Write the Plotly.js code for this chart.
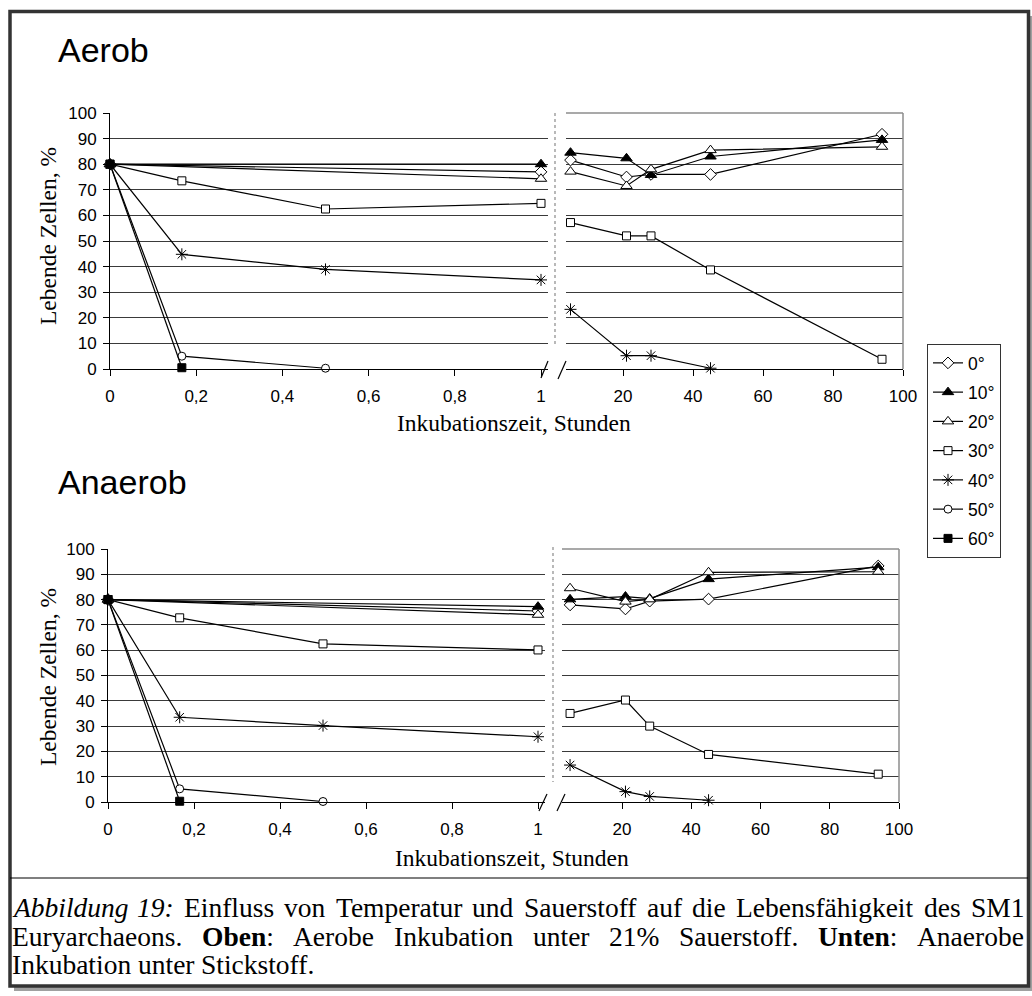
<!DOCTYPE html>
<html><head><meta charset="utf-8">
<script src="https://cdn.plot.ly/plotly-3.0.1.min.js"></script>
<style>html,body{margin:0;padding:0;background:#fff}#chart{width:1032px;height:996px}</style>
</head><body><div id="chart"></div>
<script>
const W = 1032, H = 996;

// ---------- data ----------
const temps = ['0°', '10°', '20°', '30°', '40°', '50°', '60°'];
const hoursShort = [0, 0.1667, 0.5, 1];          // left part of each panel (0–1 h)
const hoursLong = [5, 21, 28, 45, 94];           // right part of each panel (h)
const xTicksShort = [0, 0.2, 0.4, 0.6, 0.8, 1];
const xTicksLong = [20, 40, 60, 80, 100];

// Aerob, 0–1 h
const aerobShort0 = [80, null, null, 77];
const aerobShort10 = [80, null, null, 80];
const aerobShort20 = [80, null, null, 74.3];
const aerobShort30 = [80, 73.5, 62.5, 64.7];
const aerobShort40 = [80, 44.8, 38.9, 34.8];
const aerobShort50 = [80, 5, 0.3, null];
const aerobShort60 = [80, 0.5, null, null];
// Aerob, 5–94 h
const aerobLong0 = [81.6, 75, 76, 76, 91.7];
const aerobLong10 = [84.5, 82.3, 75.8, 83, 89.5];
const aerobLong20 = [77.1, 71.5, 78, 85.5, 86.8];
const aerobLong30 = [57.2, 52, 52, 38.7, 3.8];
const aerobLong40 = [23.3, 5.2, 5.2, 0.3, null];
const aerobLong50 = [null, null, null, null, null];
const aerobLong60 = [null, null, null, null, null];
// Anaerob, 0–1 h
const anaerobShort0 = [80, null, null, 75.5];
const anaerobShort10 = [80, null, null, 77.2];
const anaerobShort20 = [80, null, null, 74];
const anaerobShort30 = [80, 72.8, 62.5, 60.1];
const anaerobShort40 = [80, 33.5, 30.2, 25.8];
const anaerobShort50 = [80, 5.2, 0.2, null];
const anaerobShort60 = [80, 0.3, null, null];
// Anaerob, 5–94 h
const anaerobLong0 = [77.9, 76.3, 79.4, 80.2, 93.3];
const anaerobLong10 = [80.1, 81.2, 80.4, 88.1, 92.8];
const anaerobLong20 = [84.5, 79.2, 80.1, 90.8, 91];
const anaerobLong30 = [35, 40.3, 30, 18.8, 11];
const anaerobLong40 = [14.6, 4.1, 2.2, 0.7, null];
const anaerobLong50 = [null, null, null, null, null];
const anaerobLong60 = [null, null, null, null, null];

const aerobShort = [aerobShort0, aerobShort10, aerobShort20, aerobShort30, aerobShort40, aerobShort50, aerobShort60];
const aerobLong = [aerobLong0, aerobLong10, aerobLong20, aerobLong30, aerobLong40, aerobLong50, aerobLong60];
const anaerobShort = [anaerobShort0, anaerobShort10, anaerobShort20, anaerobShort30, anaerobShort40, anaerobShort50, anaerobShort60];
const anaerobLong = [anaerobLong0, anaerobLong10, anaerobLong20, anaerobLong30, anaerobLong40, anaerobLong50, anaerobLong60];

const panelTitles = ['Aerob', 'Anaerob'];
const xTitle = 'Inkubationszeit, Stunden';
const yTitle = 'Lebende Zellen, %';
const captionLines = [
  ['<i>Abbildung</i>', '<i>19:</i>', 'Einfluss', 'von', 'Temperatur', 'und', 'Sauerstoff', 'auf', 'die', 'Lebensfähigkeit', 'des', 'SM1'],
  ['Euryarchaeons.', '<b>Oben</b>:', 'Aerobe', 'Inkubation', 'unter', '21%', 'Sauerstoff.', '<b>Unten</b>:', 'Anaerobe'],
  ['Inkubation', 'unter', 'Stickstoff.']
];

// ---------- styles ----------
const symbols = ['diamond', 'triangle-up', 'triangle-up', 'square', 'asterisk-open', 'circle', 'square'];
const fills = ['white', 'black', 'white', 'white', 'black', 'white', 'black'];
const sizes = [9, 10, 10, 8, 10, 8, 8];
const SANS = 'Liberation Sans, Arial, sans-serif';
const SERIF = 'Liberation Serif, Times New Roman, serif';
const px = v => v / W;
const py = v => 1 - v / H;

// ---------- traces ----------
const traces = [];
function addSeries(xs, ys, xa, ya, i, show) {
  traces.push({
    type: 'scatter', mode: 'lines+markers', x: xs, y: ys, xaxis: xa, yaxis: ya,
    name: temps[i], legendgroup: temps[i], showlegend: show, connectgaps: true, cliponaxis: false,
    line: {color: 'black', width: 1.2},
    marker: {symbol: symbols[i], size: sizes[i], color: fills[i], line: {color: 'black', width: 1}}
  });
}
for (let i = 0; i < temps.length; i++) {
  addSeries(hoursShort, aerobShort[i], 'x', 'y', i, true);
  addSeries(hoursLong, aerobLong[i], 'x2', 'y2', i, false);
  addSeries(hoursShort, anaerobShort[i], 'x3', 'y3', i, false);
  addSeries(hoursLong, anaerobLong[i], 'x4', 'y4', i, false);
}

// ---------- layout geometry (pixels) ----------
const G = {
  top: {yT: 113, yB: 369, lx0: 110, lx1px: 541, lxR: 548, rxL: 566, rxR: 903, r20: 623},
  bot: {yT: 549, yB: 802, lx0: 108, lx1px: 538, lxR: 545, rxL: 562, rxR: 899, r20: 622}
};
const tickFont = {family: SANS, size: 17, color: 'black'};
function shortX(g, anchor) {
  return {domain: [px(g.lx0), px(g.lxR)], range: [0, (g.lxR - g.lx0) / (g.lx1px - g.lx0)], anchor: anchor,
    tickmode: 'array', tickvals: xTicksShort, ticks: 'outside', ticklen: 6, tickcolor: 'black',
    showline: true, linecolor: 'black', linewidth: 1, showgrid: false, zeroline: false,
    tickfont: tickFont, ticklabelstandoff: 6, fixedrange: true};
}
function longX(g, anchor) {
  const ppu = (g.rxR - g.r20) / 80;
  return {domain: [px(g.rxL), px(g.rxR)], range: [100 - (g.rxR - g.rxL) / ppu, 100.0001], anchor: anchor,
    tickmode: 'array', tickvals: xTicksLong, ticks: 'outside', ticklen: 6, tickcolor: 'black',
    showline: true, linecolor: 'black', linewidth: 1, showgrid: false, zeroline: false,
    tickfont: tickFont, ticklabelstandoff: 6, fixedrange: true};
}
function mainY(g, anchor) {
  return {domain: [py(g.yB), py(g.yT)], range: [0, 100], anchor: anchor, dtick: 10, tick0: 0,
    ticks: 'outside', ticklen: 6, tickcolor: 'black', showline: true, linecolor: 'black', linewidth: 1,
    showgrid: true, gridcolor: '#3a3a3a', gridwidth: 1, zeroline: false, tickfont: tickFont,
    ticklabelstandoff: 3, fixedrange: true};
}
function sideY(g, anchor) {
  return {domain: [py(g.yB), py(g.yT)], range: [0, 100], anchor: anchor, dtick: 10, tick0: 0,
    showticklabels: false, ticks: '', showline: false, showgrid: true, gridcolor: '#3a3a3a', gridwidth: 1,
    zeroline: false, fixedrange: true};
}

// ---------- shapes ----------
const shapes = [];
function line(x0, y0, x1, y1, color, width, dash) {
  shapes.push({type: 'line', xref: 'paper', yref: 'paper', x0: px(x0), y0: py(y0), x1: px(x1), y1: py(y1),
    line: {color: color, width: width, dash: dash || 'solid'}});
}
// outer frame with shadow
shapes.push({type: 'rect', xref: 'paper', yref: 'paper', x0: px(14), y0: py(991), x1: px(1032), y1: py(16),
  fillcolor: '#a0a0a0', line: {width: 0}, layer: 'below'});
shapes.push({type: 'rect', xref: 'paper', yref: 'paper', x0: px(10), y0: py(986), x1: px(1028.5), y1: py(11.5),
  fillcolor: 'white', line: {color: '#333', width: 3.5}, layer: 'below'});
// caption separator
line(10, 878, 1028, 878, 'black', 1.2);
// right-plot frames (top + right, grey)
[['x2', 'y2'], ['x4', 'y4']].forEach(([xa, ya]) => {
  shapes.push({type: 'line', xref: xa + ' domain', yref: ya + ' domain', x0: 0, x1: 1, y0: 1, y1: 1, line: {color: '#8c8c8c', width: 1.5}});
  shapes.push({type: 'line', xref: xa + ' domain', yref: ya + ' domain', x0: 1, x1: 1, y0: 0, y1: 1, line: {color: '#8c8c8c', width: 1.5}});
});
// dotted separators
line(555, 113, 555, 345, '#8a8a8a', 1.2, 'dot');
line(553, 547, 553, 782, '#8a8a8a', 1.2, 'dot');
// axis break marks
line(541, 378, 548, 361, 'black', 1.2);
line(558, 379, 566, 361, 'black', 1.2);
line(539, 811, 547, 794, 'black', 1.2);
line(557, 811, 565, 794, 'black', 1.2);

// ---------- annotations ----------
const annotations = [];
function ann(text, x, y, font, xanchor, extra) {
  annotations.push(Object.assign({text: text, xref: 'paper', yref: 'paper', x: px(x), y: py(y),
    xanchor: xanchor || 'center', yanchor: 'middle', showarrow: false, font: font}, extra || {}));
}
ann(panelTitles[0], 56, 50, {family: SANS, size: 34, color: 'black'}, 'left');
ann(panelTitles[1], 56, 482, {family: SANS, size: 34, color: 'black'}, 'left');
const titleFont = {family: SERIF, size: 23.5, color: 'black'};
ann(xTitle, 514, 423, titleFont);
ann(xTitle, 512, 858, titleFont);
ann(yTitle, 48, 236, titleFont, 'center', {textangle: -90});
ann(yTitle, 48, 677, titleFont, 'center', {textangle: -90});

// caption with justified lines, measured on a canvas
const CAP = 27.5;
const ctx = document.createElement('canvas').getContext('2d');
function segments(word) {
  const parts = word.split(/(<\/?[ib]>)/); let it = false, bd = false; const out = [];
  parts.forEach(p => {
    if (p === '<i>') it = true; else if (p === '</i>') it = false;
    else if (p === '<b>') bd = true; else if (p === '</b>') bd = false;
    else if (p) out.push({t: p, i: it, b: bd});
  });
  return out;
}
function measure(word) {
  return segments(word).reduce((a, s) => {
    ctx.font = (s.i ? 'italic ' : '') + (s.b ? 'bold ' : '') + CAP + 'px "Liberation Serif"';
    return a + ctx.measureText(s.t).width;
  }, 0);
}
ctx.font = CAP + 'px "Liberation Serif"';
const spaceW = ctx.measureText(' ').width;
const capLeft = 11, capRight = 1023, capY = [907, 936, 964];
captionLines.forEach((words, li) => {
  const widths = words.map(measure);
  const total = widths.reduce((a, b) => a + b, 0);
  const justify = li < captionLines.length - 1;
  const gap = justify ? Math.max(spaceW * 0.6, (capRight - capLeft - total) / (words.length - 1)) : spaceW;
  let x = capLeft;
  words.forEach((w, k) => {
    ann(w, x - 1, capY[li], {family: SERIF, size: CAP, color: 'black'}, 'left');
    x += widths[k] + gap;
  });
});

const layout = {
  width: W, height: H, margin: {l: 0, r: 0, t: 0, b: 0},
  paper_bgcolor: 'white', plot_bgcolor: 'rgba(0,0,0,0)', separators: ',.',
  font: {family: SANS, color: 'black'},
  xaxis: shortX(G.top, 'y'), yaxis: mainY(G.top, 'x'),
  xaxis2: longX(G.top, 'y2'), yaxis2: sideY(G.top, 'x2'),
  xaxis3: shortX(G.bot, 'y3'), yaxis3: mainY(G.bot, 'x3'),
  xaxis4: longX(G.bot, 'y4'), yaxis4: sideY(G.bot, 'x4'),
  showlegend: true,
  legend: {x: px(927), y: py(344), xanchor: 'left', yanchor: 'top', bgcolor: 'white',
    bordercolor: '#333', borderwidth: 1, font: {family: SANS, size: 17.5, color: 'black'},
    tracegroupgap: 3.5, traceorder: 'grouped', itemclick: false, itemdoubleclick: false},
  shapes: shapes, annotations: annotations
};
Plotly.newPlot('chart', traces, layout, {staticPlot: true, displayModeBar: false});
</script></body></html>
